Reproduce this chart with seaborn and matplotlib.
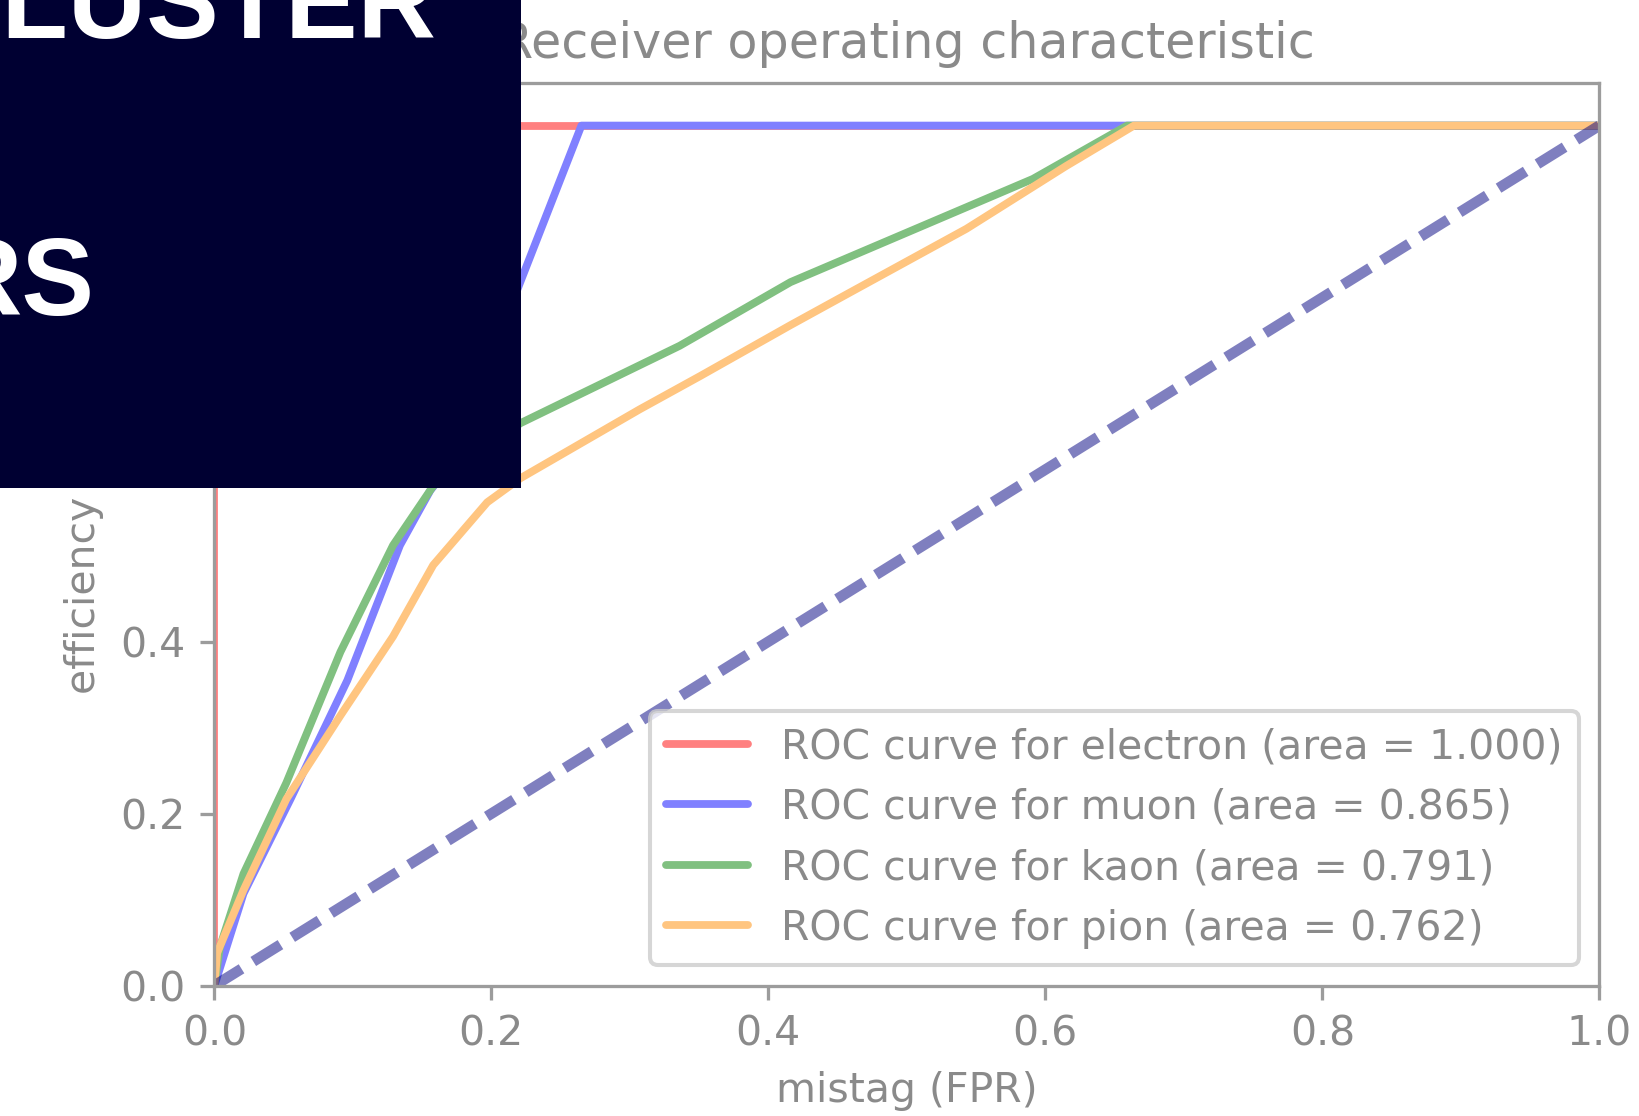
import numpy as np
import pandas as pd
import matplotlib
matplotlib.use("Agg")
import matplotlib.pyplot as plt
from matplotlib.patches import Rectangle
import seaborn as sns

# ---- data ----
particles = ["electron", "muon", "kaon", "pion"]
areas = [1.000, 0.865, 0.791, 0.762]
# light (50% tint) versions of red, blue, green, darkorange
colors = ["#ff8080", "#8080ff", "#80c080", "#ffc580"]

electron_fpr = [0.0, 0.0, 1.0]
electron_tpr = [0.0, 1.0, 1.0]

muon_fpr = [0.0, 0.021, 0.055, 0.096, 0.134, 0.156, 0.168, 0.265, 1.0]
muon_tpr = [0.0, 0.107, 0.217, 0.355, 0.512, 0.576, 0.600, 1.0, 1.0]

kaon_fpr = [0.0, 0.004, 0.021, 0.052, 0.091, 0.129, 0.158, 0.221, 0.336, 0.416, 0.591, 0.659, 1.0]
kaon_tpr = [0.0, 0.045, 0.130, 0.236, 0.388, 0.512, 0.581, 0.654, 0.744, 0.818, 0.938, 1.0, 1.0]

pion_fpr = [0.0, 0.002, 0.021, 0.052, 0.091, 0.129, 0.158, 0.197, 0.221, 0.307, 0.351, 0.416, 0.459, 0.543, 0.615, 0.664, 1.0]
pion_tpr = [0.0, 0.038, 0.111, 0.217, 0.314, 0.406, 0.489, 0.562, 0.590, 0.670, 0.709, 0.768, 0.806, 0.880, 0.953, 1.0, 1.0]

chance_fpr = [0.0, 1.0]
chance_tpr = [0.0, 1.0]

title = "Receiver operating characteristic"
xlabel = "mistag (FPR)"
ylabel = "efficiency (TPR)"
overlay_line1 = "CLUSTER"
overlay_line2 = "RS"

# ---- style ----
sns.set_style("ticks")
gray_text = "#8a8a8a"
gray_spine = "#9c9c9c"
plt.rcParams.update({
    "font.family": ["DejaVu Sans"],
    "font.size": 10,
    "text.color": gray_text,
    "axes.labelcolor": gray_text,
    "axes.titlecolor": gray_text,
    "xtick.color": gray_spine,
    "ytick.color": gray_spine,
    "xtick.labelcolor": gray_text,
    "ytick.labelcolor": gray_text,
    "axes.edgecolor": gray_spine,
    "axes.linewidth": 0.8,
    "xtick.major.size": 3.5,
    "ytick.major.size": 3.5,
    "xtick.major.width": 0.8,
    "ytick.major.width": 0.8,
    "axes.titlesize": 12,
    "axes.labelsize": 10,
    "legend.fontsize": 10,
})

DPI = 295
fig = plt.figure(figsize=(1639 / DPI, 1116 / DPI), dpi=DPI)
ax = fig.add_axes([0.1308, 0.1168, 0.9758 - 0.1308, 0.926 - 0.1168])

series = [
    (electron_fpr, electron_tpr),
    (muon_fpr, muon_tpr),
    (kaon_fpr, kaon_tpr),
    (pion_fpr, pion_tpr),
]
for (fpr, tpr), name, area, col in zip(series, particles, areas, colors):
    df = pd.DataFrame({"fpr": fpr, "tpr": tpr})
    sns.lineplot(data=df, x="fpr", y="tpr", sort=False, estimator=None,
                 color=col, lw=1.9, ax=ax,
                 label=f"ROC curve for {name} (area = {area:.3f})")

chance = sns.lineplot(x=chance_fpr, y=chance_tpr, sort=False, estimator=None,
                      color="navy", alpha=0.5, lw=2.6, ax=ax, legend=False)
ax.lines[-1].set_dashes((3.0, 1.3))

ax.set_xlim(0.0, 1.0)
ax.set_ylim(0.0, 1.05)
ax.set_xticks([0.0, 0.2, 0.4, 0.6, 0.8, 1.0])
ax.set_yticks([0.0, 0.2, 0.4, 0.6, 0.8, 1.0])
ax.set_xlabel(xlabel)
ax.set_ylabel(ylabel)
ax.set_title(title)
for s in ax.spines.values():
    s.set_visible(True)
    s.set_color(gray_spine)
leg = ax.legend(loc="lower right")
for t in leg.get_texts():
    t.set_color(gray_text)

# ---- dark overlay banner (top-left) ----
W, H = 1639, 1116
fig.add_artist(Rectangle((0, 1 - 488 / H), 521 / W, 488 / H,
                         transform=fig.transFigure, facecolor="#000032",
                         edgecolor="none", zorder=20))
fig.text(436 / W, 1 - 38 / H, overlay_line1, ha="right", va="baseline",
         color="white", fontsize=26.5, fontweight="bold",
         family=["Liberation Sans", "DejaVu Sans"], zorder=21)
fig.text(95 / W, 1 - 315 / H, overlay_line2, ha="right", va="baseline",
         color="white", fontsize=26.5, fontweight="bold",
         family=["Liberation Sans", "DejaVu Sans"], zorder=21)

fig.savefig("out.png", dpi=DPI)
